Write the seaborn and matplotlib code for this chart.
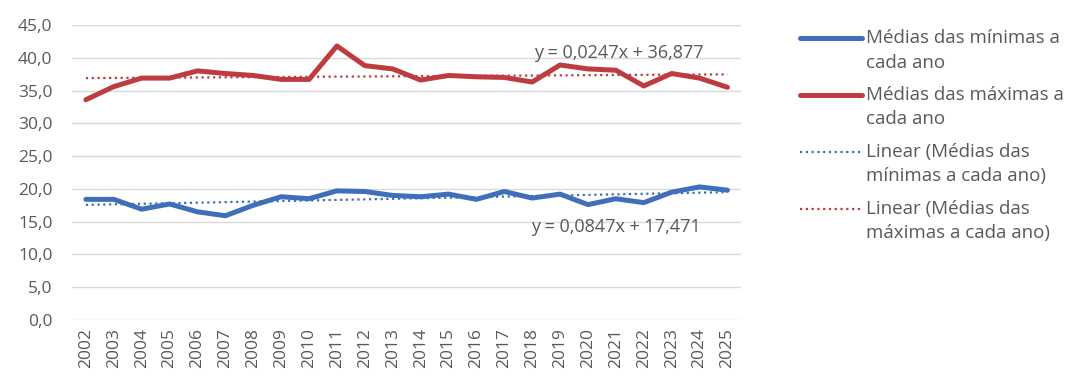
import numpy as np
import pandas as pd
import matplotlib
matplotlib.use("Agg")
import matplotlib.pyplot as plt
from matplotlib.lines import Line2D
from matplotlib.ticker import FuncFormatter, MultipleLocator
import seaborn as sns

# Anos e médias
anos = [str(a) for a in range(2002, 2026)]
medias_minimas = [18.4, 18.4, 16.9, 17.7, 16.5, 15.9, 17.5, 18.8, 18.5, 19.7, 19.6, 19.0,
                  18.8, 19.2, 18.4, 19.6, 18.6, 19.2, 17.6, 18.5, 17.9, 19.5, 20.3, 19.8]
medias_maximas = [33.6, 35.6, 36.9, 36.9, 38.0, 37.6, 37.3, 36.7, 36.7, 41.8, 38.8, 38.3,
                  36.6, 37.3, 37.1, 37.0, 36.3, 38.9, 38.3, 38.1, 35.7, 37.6, 36.9, 35.5]

# Coeficientes das linhas de tendência (como mostrados no gráfico)
tend_min = (0.0847, 17.471)
tend_max = (0.0247, 36.877)

azul = "#3F6FB8"
vermelho = "#BE3C3F"
cinza = "#595959"

sns.set_style("white")
plt.rcParams['font.family'] = ['Open Sans', 'DejaVu Sans']

df = pd.DataFrame({"idx": np.arange(len(anos)), "ano": anos,
                   "min": medias_minimas, "max": medias_maximas})
x_excel = df["idx"] + 1

fig = plt.figure(figsize=(10.66, 3.76), dpi=100)
ax = fig.add_axes([0.0675, 0.149, 0.628, 0.7845])

for v in range(0, 50, 5):
    ax.axhline(v, color="#D9D9D9", lw=1.0, zorder=0)

sns.lineplot(x=df["idx"], y=df["min"], color=azul, lw=3.6, ax=ax, zorder=3)
sns.lineplot(x=df["idx"], y=df["max"], color=vermelho, lw=3.6, ax=ax, zorder=3)
ax.plot(df["idx"], tend_min[0] * x_excel + tend_min[1], color=azul, lw=1.6,
        linestyle=(0, (1, 1.6)), zorder=4)
ax.plot(df["idx"], tend_max[0] * x_excel + tend_max[1], color=vermelho, lw=1.6,
        linestyle=(0, (1, 1.6)), zorder=4)

ax.text(19.1, 40.7, "y = 0,0247x + 36,877", ha="center", va="center",
        fontsize=13, color=cinza)
ax.text(19.0, 14.2, "y = 0,0847x + 17,471", ha="center", va="center",
        fontsize=13, color=cinza)

ax.set_xlim(-0.5, len(anos) - 0.5)
ax.set_ylim(0, 45)
ax.yaxis.set_major_locator(MultipleLocator(5))
ax.yaxis.set_major_formatter(FuncFormatter(lambda v, p: f"{v:.1f}".replace(".", ",")))
ax.set_xticks(df["idx"])
ax.set_xticklabels(anos, rotation=90)
ax.tick_params(axis="both", length=0, labelsize=12.5, labelcolor=cinza)
ax.tick_params(axis="y", pad=14)
ax.tick_params(axis="x", pad=6)
ax.set_xlabel("")
ax.set_ylabel("")
for s in ax.spines.values():
    s.set_visible(False)

# Legenda ao estilo Excel (marcador alinhado à primeira linha do texto)
entradas = [
    (azul, "-", 3.6, ["Médias das mínimas a", "cada ano"]),
    (vermelho, "-", 3.6, ["Médias das máximas a", "cada ano"]),
    (azul, (0, (1, 1.6)), 1.6, ["Linear (Médias das", "mínimas a cada ano)"]),
    (vermelho, (0, (1, 1.6)), 1.6, ["Linear (Médias das", "máximas a cada ano)"]),
]
W, H = 1066, 376
y = 38
for cor, estilo, lw, linhas in entradas:
    fig.add_artist(Line2D([800 / W, 862 / W], [1 - y / H, 1 - y / H], color=cor,
                          lw=lw, linestyle=estilo, transform=fig.transFigure))
    for i, t in enumerate(linhas):
        fig.text(866 / W, 1 - (y + i * 24.5) / H, t, ha="left", va="center",
                 fontsize=13.5, color=cinza)
    y += 57

fig.savefig("out.png", dpi=100)
